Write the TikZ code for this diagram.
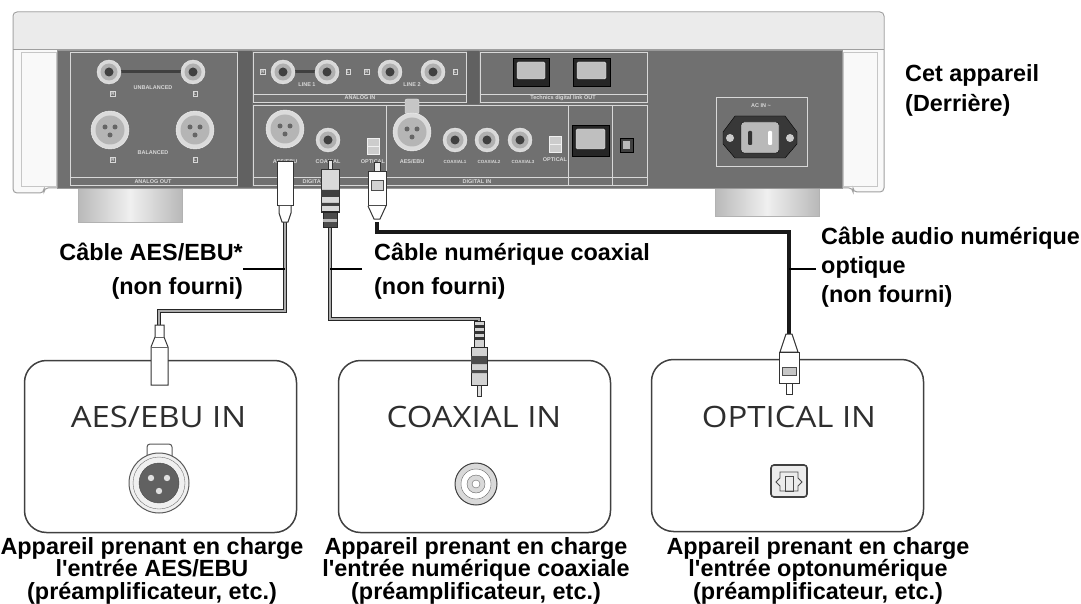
\documentclass[tikz,border=0pt]{standalone}
\usepackage{fontspec}
\setmainfont{Liberation Sans}
\newfontfamily\boxfont[FakeStretch=1.12]{Open Sans}
\usetikzlibrary{positioning}

\definecolor{panelgray}{HTML}{707070}
\definecolor{linegray}{HTML}{D8D8D8}

\begin{document}
\begin{tikzpicture}[x=1pt, y=-1pt,
    lab/.style={font=\bfseries\fontsize{23.4}{34}\selectfont, inner sep=0pt},
    capt/.style={font=\bfseries\fontsize{23.4}{22.4}\selectfont, align=center, inner sep=0pt},
    boxtitle/.style={font=\boxfont\fontsize{29.4}{30}\selectfont, text=black!82, inner sep=0pt},
    devbox/.style={draw=black!75, line width=1.5pt, rounded corners=22pt, minimum width=272pt, minimum height=172pt},
    panel/.style={draw=linegray, line width=0.9pt},
    mini/.style={font=\bfseries\fontsize{5.5}{5.5}\selectfont, text=linegray, inner sep=0pt},
    side/.style={draw=linegray, font=\bfseries\fontsize{4.5}{4.5}\selectfont, text=linegray, inner sep=0.8pt},
    cable/.style={draw=black!85, line width=4.4pt, postaction={draw=gray!65, line width=2pt}},
    fibre/.style={draw=black!90, line width=4pt},
    leader/.style={draw=black, line width=1.4pt},
    plug/.style={draw=black!80, fill=white, line width=1pt},
    foot/.style={draw=gray!60, left color=gray!55, right color=gray!55, middle color=gray!12}]

\useasboundingbox (0,0) rectangle (1081,604);

% feet
\draw[foot] (78,186) rectangle (182,222);
\draw[foot] (715,186) rectangle (819,216);

% the unit seen from behind
\filldraw[draw=gray!75, fill=gray!5, line width=1pt, rounded corners=4pt]
    (13,193) -- (13,12) -- (884,12) -- (884,192) -- (853,192) -- (853,188) -- (44,188) -- (44,193) -- cycle;
\fill[gray!16] (14,50) [rounded corners=4pt] -- (14,13) -- (883,13) [sharp corners] -- (883,50) -- cycle;
\draw[gray!75, line width=1pt] (13,50) -- (884,50);
\draw[gray!45] (21,52) rectangle (56,186) (843,52) rectangle (877,186);
\filldraw[fill=panelgray, draw=gray!80] (57,50) rectangle (842,188);
\fill[black!62] (238,51) rectangle (252,187) (467,51) rectangle (479,104) (253,103) rectangle (467,104);

% panels
\draw[panel] (70,52) rectangle (237,185) (70,177) -- (237,177);
\draw[panel] (253,52) rectangle (466,102) (253,94) -- (466,94);
\draw[panel] (480,52) rectangle (647,102) (480,94) -- (647,94);
\draw[panel] (253,105) rectangle (386,185) (253,177) -- (386,177);
\draw[panel] (386,105) rectangle (568,185) (386,177) -- (568,177);
\draw[panel] (568,105) rectangle (612,185) (568,177) -- (612,177);
\draw[panel] (612,105) rectangle (647,185) (612,177) -- (647,177);
\draw[panel] (716,97) rectangle (807,166);

% jacks
\draw[black!75, line width=3pt] (121,72) -- (181,72) (295,72) -- (315,72);
\foreach \x/\y in {109/72,193/72,283/72,327/72,390/72,433/72,328/140,455/140,487/140,520/140}{
    \filldraw[fill=gray!30, draw=gray!15] (\x,\y) circle (12);
    \fill[gray!62] (\x,\y) circle (8.5);
    \fill[black!75] (\x,\y) circle (4.5);
}
\filldraw[fill=gray!45, draw=gray!20, rounded corners=2pt] (405,99) rectangle (419,114);
\foreach \x/\y in {110/130,195/130,285/129,412/132}{
    \filldraw[fill=gray!28, draw=gray!12] (\x,\y) circle (19);
    \fill[gray!58] (\x,\y) circle (14.5);
    \foreach \dx/\dy in {-5/-3,5/-3,0/5}
        \fill[black!60] (\x+\dx,\y+\dy) circle (2.5);
}
\foreach \x/\y in {373/146,555/144}{
    \filldraw[fill=gray!40, draw=gray!12] (\x-6,\y-8) rectangle (\x+6,\y+8);
    \draw[gray!12] (\x-6,\y) -- (\x+6,\y);
}
\foreach \x/\y/\w/\h in {513/58/36/28,573/58/37/28,572/125/37/31}{
    \filldraw[fill=black!85, draw=black] (\x,\y) rectangle ++(\w,\h);
    \filldraw[fill=gray!50, draw=gray!25, rounded corners=1.5pt] (\x+4,\y+4) rectangle ++(\w-8,\h-11);
}
\filldraw[fill=black!75, draw=black] (620,138) rectangle (633,152);
\fill[gray!55] (623,141) rectangle (630,149);
\filldraw[fill=black!78, draw=black] (723,132) -- (735,116) -- (785,116) -- (797,132)
    -- (797,144) -- (785,158) -- (735,158) -- (723,144) -- cycle;
\fill[gray!40] (730,138) circle (4) (790,138) circle (4);
\filldraw[fill=gray!55, draw=black, rounded corners=3pt] (741,122) rectangle (779,153);
\fill[black!80, rounded corners=1pt] (748,131) rectangle (752,145);
\fill[white, rounded corners=1pt] (768,131) rectangle (772,145);

% small print on the unit
\node[mini] (tUnbal) at (153,88) {UNBALANCED};
\node[mini] (tBal) at (153,153) {BALANCED};
\node[mini] (tAout) at (153,182) {ANALOG OUT};
\node[mini] (tLine1) at (307,85) {LINE 1};
\node[mini] (tLine2) at (412,85) {LINE 2};
\node[mini] (tAin) at (360,98) {ANALOG IN};
\node[mini] (tLink) at (563,98) {Technics digital link OUT};
\node[mini] (tAes) at (285,162) {AES/EBU};
\node[mini] (tCoax) at (328,162) {COAXIAL};
\node[mini] (tOpt) at (373,162) {OPTICAL};
\node[mini] (tDout) at (320,182) {DIGITAL OUT};
\node[mini] (tAesIn) at (412,162) {AES/EBU};
\node[mini, font=\bfseries\fontsize{4.5}{4.5}\selectfont] (tC1) at (455,162) {COAXIAL1};
\node[mini, font=\bfseries\fontsize{4.5}{4.5}\selectfont] (tC2) at (489,162) {COAXIAL2};
\node[mini, font=\bfseries\fontsize{4.5}{4.5}\selectfont] (tC3) at (523,162) {COAXIAL3};
\node[mini] (tOptIn) at (555,160) {OPTICAL};
\node[mini] (tDin) at (477,182) {DIGITAL IN};
\node[mini] (tAc) at (761,106) {AC IN \textasciitilde};
\foreach \x/\y/\t in {113/94/R,195/94/L,113/160/R,195/160/L,263/72/R,348/72/L,367/72/R,455/72/L}
    \node[side] at (\x,\y) {\t};

% the three devices
\node[devbox] (aesBox) at (160.5,446.5) {};
\node[devbox] (coaxBox) at (474.5,446.5) {};
\node[devbox] (optBox) at (787.5,445.5) {};
\node[boxtitle, anchor=base] (aesTitle) at (158.5,427) {AES/EBU IN};
\node[boxtitle, anchor=base] (coaxTitle) at (474,427) {COAXIAL IN};
\node[boxtitle, anchor=base] (optTitle) at (789,427) {OPTICAL IN};

% sockets on the devices
\filldraw[fill=white, draw=black!65, line width=1pt, rounded corners=3pt] (147,444) rectangle (172,462);
\filldraw[fill=gray!12, draw=black!65, line width=1pt] (159,483) circle (30);
\draw[black!55] (159,483) circle (26);
\filldraw[fill=black!62, draw=black!70] (159,483) circle (20);
\foreach \dx/\dy in {-8/-5,8/-5,0/8}
    \fill[gray!25] (159+\dx,483+\dy) circle (3.2);
\filldraw[fill=gray!30, draw=black!75, line width=1pt] (476,484) circle (21);
\filldraw[fill=white, draw=black!60] (476,484) circle (15);
\filldraw[fill=gray!30, draw=black!60] (476,484) circle (9);
\filldraw[fill=white, draw=black!60] (476,484) circle (4);
\filldraw[fill=gray!15, draw=black!75, line width=1.6pt, rounded corners=3pt] (771,465) rectangle (807,497);
\draw[black!70, line width=0.8pt] (780,472) -- (798,472) -- (798,478) -- (802,482) -- (798,486) -- (798,491)
    -- (780,491) -- (780,486) -- (776,482) -- (780,478) -- cycle;
\draw[black!70, line width=0.8pt] (785,476) rectangle (793,491);

% cables
\coordinate (aesTop) at (285,221);
\coordinate (aesBot) at (159,327);
\coordinate (coaxTop) at (330,226);
\coordinate (coaxBot) at (479,322);
\coordinate (optTop) at (377,222);
\coordinate (optBot) at (789,336);
\draw[cable] (aesTop) -- ++(0,90) -| (aesBot);
\draw[cable] (coaxTop) -- ++(0,93) -| (coaxBot);
\draw[fibre] (optTop) -- ++(0,10) -| (optBot);

% plugs at the unit
\draw[plug] (277,162) rectangle (293,206);
\draw[plug] (279,206) -- (279,213) -- (282,222) -- (288,222) -- (291,213) -- (291,206);
\filldraw[fill=gray!20, draw=black!80] (328,160) rectangle (332,171);
\filldraw[fill=gray!30, draw=black!80, line width=1pt] (321,170) rectangle (339,212);
\fill[black!75] (321,190) rectangle (339,197) (321,203) rectangle (339,206);
\filldraw[fill=black!70, draw=black!85, line width=1pt] (323,212) rectangle (337,227);
\fill[gray!55] (323,219) rectangle (337,222);
\filldraw[fill=gray!15, draw=black!80] (374,162) rectangle (380,172);
\draw[plug] (368,172) rectangle (386,206);
\filldraw[fill=gray!35, draw=black!70] (371,180) rectangle (383,190);
\draw[plug] (368,206) -- (374,219) -- (380,219) -- (386,206);

% plugs at the devices
\draw[plug] (155,325) -- (155,337) -- (151,347) -- (151,385) -- (168,385) -- (168,347) -- (164,337) -- (164,325) -- cycle;
\draw[black!60] (151,347) -- (168,347) (155,337) -- (164,337);
\filldraw[fill=gray!35, draw=black!85, line width=1pt] (474,321) rectangle (484,347);
\foreach \y in {325,331,337}
    \fill[black!80] (474,\y) rectangle (484,\y+3);
\filldraw[fill=gray!35, draw=black!85, line width=1pt] (471,347) rectangle (487,385);
\fill[black!70] (471,356) rectangle (487,364) (471,370) rectangle (487,373);
\filldraw[fill=gray!25, draw=black!80] (477,385) rectangle (481,396);
\draw[plug] (786,334) -- (792,334) -- (798,352) -- (780,352) -- cycle;
\draw[plug] (779,352) rectangle (799,383);
\filldraw[fill=gray!45, draw=black!70] (782,367) rectangle (796,375);
\filldraw[fill=white, draw=black!80] (786,383) rectangle (792,394);

% labels (base = last line)
\node[lab, anchor=base east, align=right] (aesLab) at (243,294) {Câble AES/EBU*\\(non fourni)};
\node[lab, anchor=base west, align=left] (coaxLab) at (374,294) {Câble numérique coaxial\\(non fourni)};
\node[lab, anchor=base west, align=left, font=\bfseries\fontsize{23.4}{29}\selectfont] (optLab) at (821,302)
    {Câble audio numérique\\optique\\(non fourni)};
\node[lab, anchor=base west, align=left, font=\bfseries\fontsize{23.4}{30}\selectfont] (unitLab) at (905,112)
    {Cet appareil\\(Derrière)};
\coordinate (aesTap) at (285,269);
\coordinate (coaxTap) at (330,269);
\coordinate (optTap) at (789,269);
\draw[leader] (aesLab.east |- aesTap) -- (aesTap);
\draw[leader] ([xshift=-12pt]coaxLab.west |- coaxTap) -- (coaxTap);
\draw[leader] ([xshift=-5pt]optLab.west |- optTap) -- (optTap);

\node[capt, anchor=base] (aesCapt) at (152,599)
    {Appareil prenant en charge\\l\textquotesingle entrée AES/EBU\\(préamplificateur, etc.)};
\node[capt, anchor=base] (coaxCapt) at (476,599)
    {Appareil prenant en charge\\l\textquotesingle entrée numérique coaxiale\\(préamplificateur, etc.)};
\node[capt, anchor=base] (optCapt) at (818,599)
    {Appareil prenant en charge\\l\textquotesingle entrée optonumérique\\(préamplificateur, etc.)};

\end{tikzpicture}
\end{document}
